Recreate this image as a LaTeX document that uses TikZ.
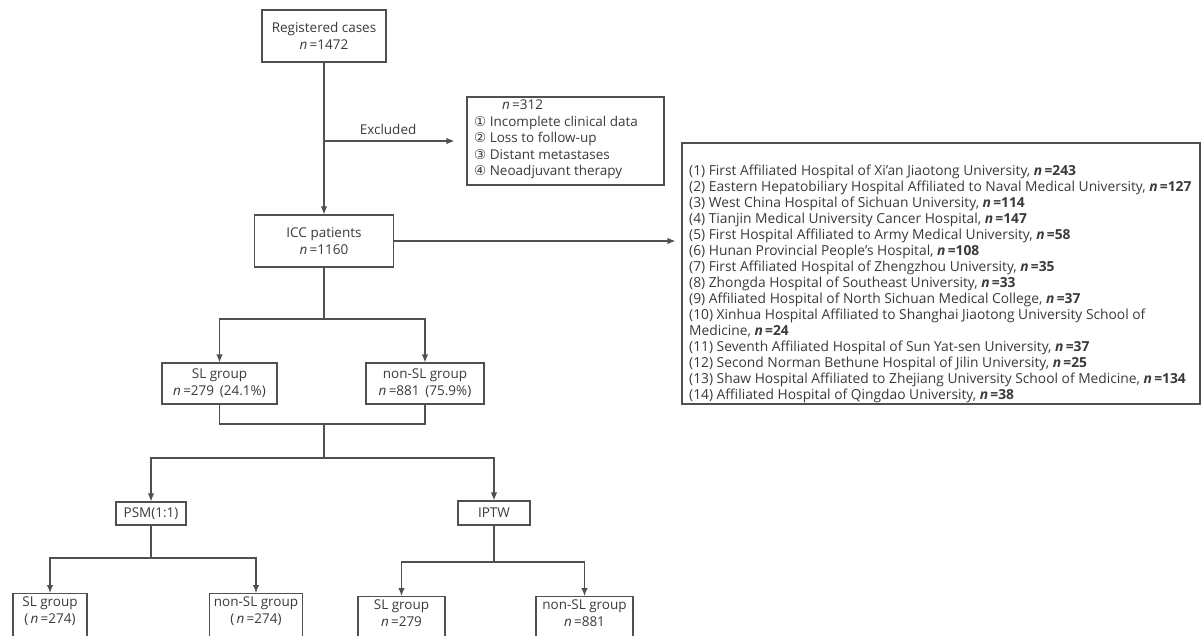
\documentclass[tikz,border=0pt]{standalone}
\usepackage{fontspec}
\setmainfont{Open Sans}
\newfontfamily\symf{DejaVu Sans}
\usetikzlibrary{arrows.meta}
\definecolor{linec}{HTML}{505050}
\definecolor{textc}{HTML}{3A3A3A}
\newcommand{\nb}[1]{\textbf{\textit{n}\,=#1}}
\newcommand{\cn}[1]{{\symf #1}}
\begin{document}
\begin{tikzpicture}[x=1pt,y=-1pt,
  line/.style={draw=linec, line width=1.2pt},
  arr/.style={line, -{Latex[length=8pt,width=6.5pt]}},
  box/.style={draw=linec, line width=1.2pt, text=textc, inner sep=0pt, align=center,
    font=\fontsize{13.5}{17}\selectfont},
  txt/.style={text=textc, inner sep=0pt, align=left, font=\fontsize{13.5}{16.5}\selectfont},
]
\path[use as bounding box] (0,0) rectangle (1203,635);
\clip (0,0) rectangle (1203,635);
\fill[white] (0,0) rectangle (1203,635);

% main boxes
\node[box, minimum width=124pt, minimum height=52pt] (reg) at (324,36)
  {Registered cases\\\textit{n}\,=1472};
\node[box, minimum width=139pt, minimum height=52pt] (icc) at (324,241)
  {ICC patients\\\textit{n}\,=1160};
\node[box, minimum width=197pt, minimum height=88pt] (excl) at (565.5,141) {};
\node[txt, anchor=north west] (excltext) at (474,100)
  {\hspace*{28pt}\textit{n}\,=312\\
   \cn{①} Incomplete clinical data\\
   \cn{②} Loss to follow-up\\
   \cn{③} Distant metastases\\
   \cn{④} Neoadjuvant therapy};
\node[box, minimum width=518pt, minimum height=261pt] (hosp) at (941,273.5) {};
\node[txt, anchor=north west, font=\fontsize{13.8}{16}\selectfont] (hosptext) at (689,165)
  {(1) First Affiliated Hospital of Xi'an Jiaotong University, \nb{243}\\
   (2) Eastern Hepatobiliary Hospital Affiliated to Naval Medical University, \nb{127}\\
   (3) West China Hospital of Sichuan University, \nb{114}\\
   (4) Tianjin Medical University Cancer Hospital, \nb{147}\\
   (5) First Hospital Affiliated to Army Medical University, \nb{58}\\
   (6) Hunan Provincial People's Hospital, \nb{108}\\
   (7) First Affiliated Hospital of Zhengzhou University, \nb{35}\\
   (8) Zhongda Hospital of Southeast University, \nb{33}\\
   (9) Affiliated Hospital of North Sichuan Medical College, \nb{37}\\
   (10) Xinhua Hospital Affiliated to Shanghai Jiaotong University School of\\
   Medicine, \nb{24}\\
   (11) Seventh Affiliated Hospital of Sun Yat-sen University, \nb{37}\\
   (12) Second Norman Bethune Hospital of Jilin University, \nb{25}\\
   (13) Shaw Hospital Affiliated to Zhejiang University School of Medicine, \nb{134}\\
   (14) Affiliated Hospital of Qingdao University, \nb{38}};

\node[box, minimum width=115pt, minimum height=41pt] (sl1) at (219.5,383.5)
  {SL group\\\textit{n}\,=279\ \,(24.1\%)};
\node[box, minimum width=118pt, minimum height=41pt] (nsl1) at (425,383.5)
  {non-SL group\\\textit{n}\,=881\ \,(75.9\%)};

\node[box, minimum width=70pt, minimum height=23pt] (psm) at (151,513.5) {PSM(1:1)};
\node[box, minimum width=72pt, minimum height=24pt] (iptw) at (494,513) {IPTW};

\node[box, minimum width=74pt, minimum height=64pt, anchor=north] (sl2) at (50,593)
  {};
\node[txt, align=center, anchor=north, font=\fontsize{13.5}{16.5}\selectfont] (sl2t) at (50,597) {SL group\\(\,\textit{n}\,=274)};
\node[box, minimum width=93pt, minimum height=64pt, anchor=north] (nsl2) at (256,593) {};
\node[txt, align=center, anchor=north, font=\fontsize{13.5}{16.5}\selectfont] (nsl2t) at (256,597) {non-SL group\\(\,\textit{n}\,=274)};
\node[box, minimum width=87pt, minimum height=64pt, anchor=north] (sl3) at (401.5,596) {};
\node[txt, align=center, anchor=north, font=\fontsize{13.5}{16.5}\selectfont] (sl3t) at (401.5,600) {SL group\\\textit{n}\,=279};
\node[box, minimum width=97pt, minimum height=64pt, anchor=north] (nsl3) at (584.5,596) {};
\node[txt, align=center, anchor=north, font=\fontsize{13.5}{16.5}\selectfont] (nsl3t) at (584.5,600) {non-SL group\\\textit{n}\,=881};

% connectors
\draw[arr] (reg.south) -- (icc.north);
\coordinate (exsplit) at (reg.south |- 0,141);
\draw[arr, shorten >=12pt] (exsplit) -- node[txt, above=6pt, pos=0.45] (exlab) {Excluded} (excl.west |- exsplit);
\draw[arr, shorten >=6pt] (icc.east) -- (hosp.west |- icc.east);

\coordinate (s1) at (icc.south |- 0,319);
\draw[line] (icc.south) -- (s1);
\draw[arr] (s1) -| (sl1.north);
\draw[arr] (s1) -| (nsl1.north);

\coordinate (m1) at (icc.south |- 0,424);
\draw[line] (sl1.south) |- (m1) -| (nsl1.south);
\coordinate (m2) at (icc.south |- 0,458);
\draw[line] (m1) -- (m2);
\draw[arr] (m2) -| (psm.north);
\draw[arr] (m2) -| (iptw.north);

\coordinate (p1) at (psm.south |- 0,558);
\draw[line] (psm.south) -- (p1);
\draw[arr] (p1) -| (sl2.north);
\draw[arr] (p1) -| (nsl2.north);

\coordinate (q1) at (iptw.south |- 0,562);
\draw[line] (iptw.south) -- (q1);
\draw[arr] (q1) -| (sl3.north);
\draw[arr] (q1) -| (nsl3.north);
\end{tikzpicture}
\end{document}
